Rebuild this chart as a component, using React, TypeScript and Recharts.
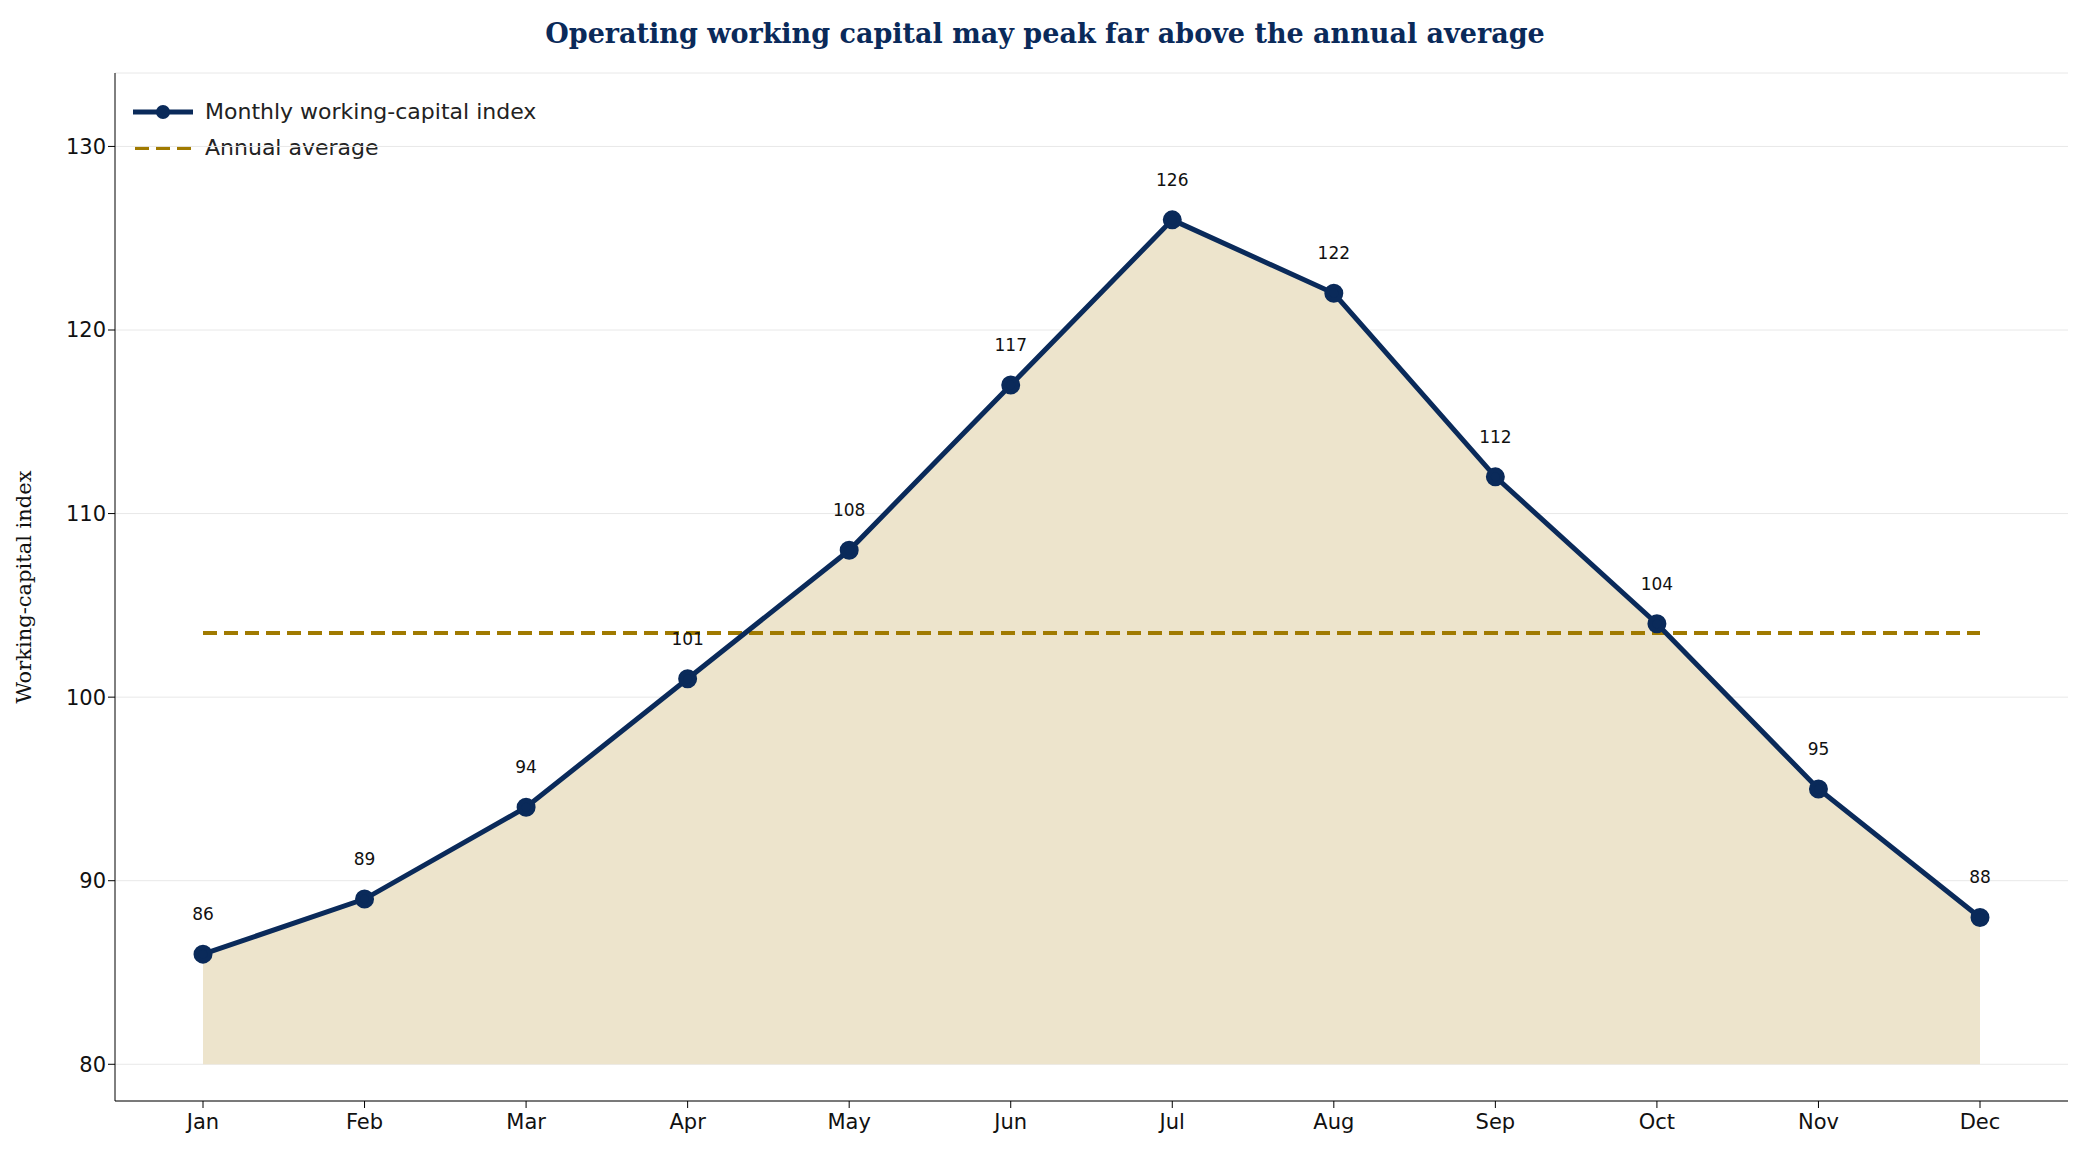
import { ComposedChart, Line, Area, XAxis, YAxis, CartesianGrid, LabelList } from 'recharts';

const months = ['Jan', 'Feb', 'Mar', 'Apr', 'May', 'Jun', 'Jul', 'Aug', 'Sep', 'Oct', 'Nov', 'Dec'];
const index = [86, 89, 94, 101, 108, 117, 126, 122, 112, 104, 95, 88];
const yTicks = [80, 90, 100, 110, 120, 130];

const avg = index.reduce((a, b) => a + b, 0) / index.length;
const data = months.map((m, i) => ({ month: m, value: index[i], avg }));

const NAVY = '#0a2a5a';
const GOLD = '#a07a00';

export default function App() {
  return (
    <div style={{ position: 'relative', width: 2074, height: 1147, fontFamily: 'DejaVu Sans' }}>
      <div style={{ position: 'absolute', top: 10, left: 0, width: 2074, textAlign: 'center', fontFamily: 'DejaVu Serif', fontWeight: 'bold', fontSize: 27, color: NAVY }}>
        Operating working capital may peak far above the annual average
      </div>
      <div style={{ position: 'absolute', left: 125, top: 86, fontSize: 22, color: '#222', lineHeight: '36px' }}>
        <div style={{ display: 'flex', alignItems: 'center' }}>
          <svg width={60} height={20} style={{ marginRight: 12 }}>
            <line x1={0} y1={10} x2={60} y2={10} stroke={NAVY} strokeWidth={5} />
            <circle cx={30} cy={10} r={7} fill={NAVY} />
          </svg>
          Monthly working-capital index
        </div>
        <div style={{ display: 'flex', alignItems: 'center' }}>
          <svg width={60} height={20} style={{ marginRight: 12 }}>
            <line x1={2} y1={10} x2={60} y2={10} stroke={GOLD} strokeWidth={4} strokeDasharray="14 7" />
          </svg>
          Annual average
        </div>
      </div>
      <ComposedChart width={2074} height={1147} data={data} margin={{ top: 65, right: 14, left: 0, bottom: 0 }}>
        <CartesianGrid vertical={false} stroke="#e8e8e8" />
        <XAxis dataKey="month" height={54} padding={{ left: 88, right: 88 }} stroke="#000" tick={{ fill: '#111', fontSize: 21 }} tickSize={7} tickMargin={6} />
        <YAxis type="number" domain={[78, 134]} ticks={yTicks} width={107} stroke="#000" tick={{ fill: '#111', fontSize: 21 }} tickSize={7}
          label={{ value: 'Working-capital index', angle: -90, position: 'insideLeft', offset: 16, style: { fontFamily: 'DejaVu Serif', fontSize: 21, fill: '#111', textAnchor: 'middle' } }} />
        <Area dataKey="value" baseValue={80} fill="#ede4cc" fillOpacity={1} stroke="#e0d3a8" strokeWidth={1} isAnimationActive={false} />
        <Line dataKey="avg" stroke={GOLD} strokeWidth={4} strokeDasharray="14 7" dot={false} isAnimationActive={false} />
        <Line dataKey="value" stroke={NAVY} strokeWidth={5} dot={{ r: 7, fill: NAVY, stroke: NAVY }} isAnimationActive={false}>
          <LabelList dataKey="value" position="top" offset={34} style={{ fontSize: 17, fill: '#111' }} />
        </Line>
      </ComposedChart>
    </div>
  );
}
